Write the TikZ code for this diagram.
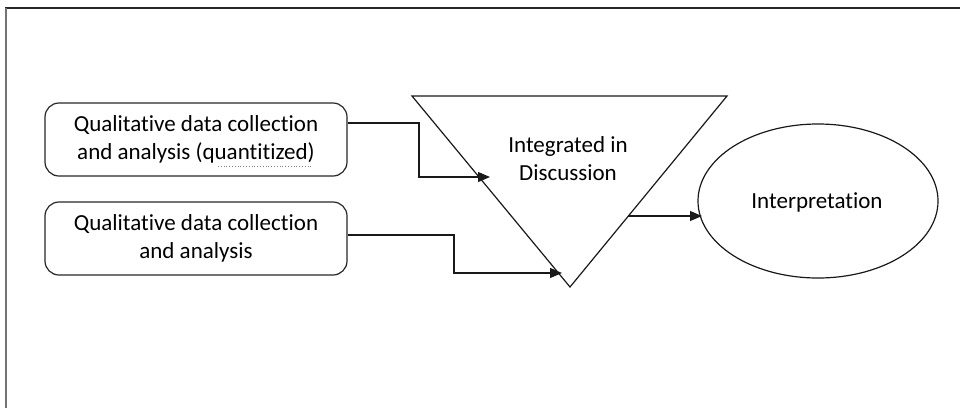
\documentclass[tikz,border=0pt]{standalone}
\usepackage{fontspec}
\setmainfont{Carlito}[Ligatures={NoCommon}]
\usetikzlibrary{arrows.meta,shapes.geometric}
\begin{document}
\begin{tikzpicture}[x=1pt,y=-1pt,
  boxnode/.style={draw=black!85,line width=1.2pt,rounded corners=14pt,minimum width=302pt,minimum height=73pt,align=center,font=\fontsize{23}{28}\selectfont,inner sep=0pt},
  conn/.style={draw=black!90,line width=1.2pt,-{Triangle[length=12pt,width=10pt]}},
  txt/.style={font=\fontsize{23}{28}\selectfont,align=center,inner sep=0pt}]
\useasboundingbox (0,0) rectangle (960,408);
% frame
\draw[line width=2pt,black!85] (5,8) -- (960,8);
\draw[line width=2pt,black!55] (6,8) -- (6,408);
% boxes
\node[boxnode] (b1) at (196,139.5) {Qualitative data collection\\and analysis (quantitized)};
\node[boxnode] (b2) at (196,238.5) {Qualitative data collection\\and analysis};
\draw[gray,dotted,line width=0.8pt] (218,166) -- (312,166);
% triangle
\coordinate (tl) at (412,96);
\coordinate (tr) at (727,96);
\coordinate (tb) at (570,287);
\draw[line width=1.2pt,black!90] (tl) -- (tr) -- (tb) -- cycle;
\node[txt] (tri) at (568,159) {Integrated in\\Discussion};
% ellipse
\node[draw=black!90,line width=1.2pt,ellipse,minimum width=240pt,minimum height=154pt,inner sep=0pt,outer sep=0pt] (ell) at (818,201) {};
\node[txt] (interp) at (817,202) {Interpretation};
% connectors
\coordinate (a1) at (490,177);
\coordinate (a2) at (562,273);
\coordinate (s3) at (628,216);
\coordinate (a3) at (702,216);
\draw[conn] (b1.east |- 0,123) -| (419,177) -- (a1);
\draw[conn] (b2.east |- 0,235) -| (454,273) -- (a2);
\draw[conn] (s3) -- (a3);
\end{tikzpicture}
\end{document}
